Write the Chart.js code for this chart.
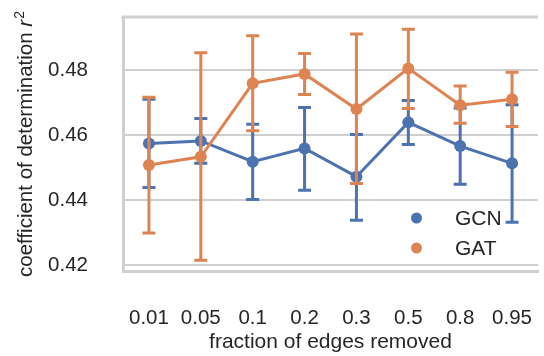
<!DOCTYPE html>
<html>
<head>
<meta charset="utf-8">
<script src="https://cdn.jsdelivr.net/npm/chart.js@4.4.1/dist/chart.umd.min.js"></script>
<style>
  html, body { margin: 0; padding: 0; background: #ffffff; }
  #wrap { width: 544px; height: 356px; }
</style>
</head>
<body>
<div id="wrap"><canvas id="chart" width="544" height="356"></canvas></div>
<script>
// fraction of edges removed (x categories)
var categories = ['0.01', '0.05', '0.1', '0.2', '0.3', '0.5', '0.8', '0.95'];

// GCN mean r^2 and error bar ends
var gcnMean = [0.4574, 0.4582, 0.4518, 0.4559, 0.4472, 0.4639, 0.4566, 0.4513];
var gcnLow  = [0.4439, 0.4513, 0.4402, 0.4430, 0.4338, 0.4571, 0.4449, 0.4332];
var gcnHigh = [0.4710, 0.4651, 0.4633, 0.4685, 0.4602, 0.4706, 0.4683, 0.4693];

// GAT mean r^2 and error bar ends
var gatMean = [0.4508, 0.4533, 0.4759, 0.4788, 0.4680, 0.4805, 0.4692, 0.4710];
var gatLow  = [0.4299, 0.4215, 0.4613, 0.4725, 0.4451, 0.4682, 0.4636, 0.4626];
var gatHigh = [0.4716, 0.4853, 0.4905, 0.4851, 0.4911, 0.4925, 0.4751, 0.4793];

var yTicks = [0.42, 0.44, 0.46, 0.48];

var blue = '#4C72B0';
var orange = '#DD8452';
var textColor = '#262626';
var gridColor = '#cfcfcf';
var fontFamily = '"Liberation Sans", Arial, sans-serif';

var errors = [
    { low: gcnLow, high: gcnHigh },
    { low: gatLow, high: gatHigh }
];

// error bars, drawn just before each dataset's line and points
var errorBars = {
    id: 'errorBars',
    beforeDatasetDraw: function(chart, args) {
        var ctx = chart.ctx;
        var ds = chart.data.datasets[args.index];
        var err = errors[args.index];
        var xScale = chart.scales.x;
        var yScale = chart.scales.y;
        ctx.save();
        ctx.strokeStyle = ds.borderColor;
        ctx.lineWidth = 3;
        for (var i = 0; i < categories.length; i++) {
            var x = xScale.getPixelForValue(i);
            var yLo = yScale.getPixelForValue(err.low[i]);
            var yHi = yScale.getPixelForValue(err.high[i]);
            ctx.beginPath();
            ctx.moveTo(x, yLo);
            ctx.lineTo(x, yHi);
            ctx.moveTo(x - 6.5, yLo);
            ctx.lineTo(x + 6.5, yLo);
            ctx.moveTo(x - 6.5, yHi);
            ctx.lineTo(x + 6.5, yHi);
            ctx.stroke();
        }
        ctx.restore();
    }
};

// top frame line, legend and the y title with italic r squared
var extras = {
    id: 'extras',
    beforeDatasetsDraw: function(chart) {
        var ctx = chart.ctx;
        var area = chart.chartArea;
        ctx.save();
        ctx.strokeStyle = gridColor;
        ctx.lineWidth = 3;
        ctx.beginPath();
        ctx.moveTo(area.left - 1.5, area.top);
        ctx.lineTo(area.right, area.top);
        ctx.stroke();
        ctx.restore();
    },
    afterDraw: function(chart) {
        var ctx = chart.ctx;
        ctx.save();

        // legend
        var items = [{ label: 'GCN', color: blue }, { label: 'GAT', color: orange }];
        ctx.font = '21px ' + fontFamily;
        ctx.textBaseline = 'middle';
        ctx.textAlign = 'left';
        items.forEach(function(it, k) {
            var y = 218 + k * 30;
            ctx.fillStyle = it.color;
            ctx.beginPath();
            ctx.arc(416.5, y, 5.5, 0, Math.PI * 2);
            ctx.fill();
            ctx.fillStyle = textColor;
            ctx.fillText(it.label, 455, y + 1);
        });

        // y axis title
        var main = 'coefficient of determination ';
        var normalFont = '20.5px ' + fontFamily;
        var italicFont = 'italic 20.5px ' + fontFamily;
        var supFont = '14px ' + fontFamily;
        ctx.font = normalFont;
        var w1 = ctx.measureText(main).width;
        ctx.font = italicFont;
        var w2 = ctx.measureText('r').width;
        ctx.font = supFont;
        var w3 = ctx.measureText('2').width;
        var total = w1 + w2 + w3 + 1;
        ctx.translate(32, (chart.chartArea.top + chart.chartArea.bottom) / 2);
        ctx.rotate(-Math.PI / 2);
        ctx.fillStyle = textColor;
        ctx.textBaseline = 'alphabetic';
        var x0 = -total / 2;
        ctx.font = normalFont;
        ctx.fillText(main, x0, 0);
        ctx.font = italicFont;
        ctx.fillText('r', x0 + w1, 0);
        ctx.font = supFont;
        ctx.fillText('2', x0 + w1 + w2 + 1, -8);
        ctx.restore();
    }
};

function noPadding(scale) {
    scale.paddingTop = 0;
    scale.paddingBottom = 0;
    scale.paddingLeft = 0;
    scale.paddingRight = 0;
}

var ctx = document.getElementById('chart').getContext('2d');
var chart = new Chart(ctx, {
    type: 'line',
    data: {
        labels: categories,
        datasets: [{
            label: 'GCN',
            data: gcnMean,
            borderColor: blue,
            backgroundColor: blue,
            borderWidth: 3,
            pointRadius: 6,
            pointBorderWidth: 0,
            tension: 0,
            order: 2
        }, {
            label: 'GAT',
            data: gatMean,
            borderColor: orange,
            backgroundColor: orange,
            borderWidth: 3,
            pointRadius: 6,
            pointBorderWidth: 0,
            tension: 0,
            order: 1
        }]
    },
    options: {
        responsive: false,
        animation: false,
        devicePixelRatio: 1,
        layout: {
            padding: { top: 17, right: 0, bottom: 0, left: 0 }
        },
        plugins: {
            legend: { display: false },
            tooltip: { enabled: false }
        },
        scales: {
            x: {
                type: 'category',
                offset: true,
                afterFit: function(scale) { scale.height = 85; noPadding(scale); },
                grid: { display: false, drawTicks: false },
                border: { display: true, color: gridColor, width: 3 },
                ticks: {
                    color: textColor,
                    padding: 35,
                    maxRotation: 0,
                    autoSkip: false,
                    font: { family: fontFamily, size: 20.5 }
                },
                title: {
                    display: true,
                    text: 'fraction of edges removed',
                    color: textColor,
                    padding: { top: 0, bottom: 1 },
                    font: { family: fontFamily, size: 21 }
                }
            },
            y: {
                min: 0.4182,
                max: 0.4963,
                afterFit: function(scale) { scale.width = 123; noPadding(scale); },
                afterBuildTicks: function(scale) {
                    scale.ticks = yTicks.map(function(v) { return { value: v }; });
                },
                grid: { color: gridColor, lineWidth: 2, drawTicks: false },
                border: { display: true, color: gridColor, width: 3 },
                ticks: {
                    color: textColor,
                    padding: 35,
                    font: { family: fontFamily, size: 20.5 },
                    callback: function(v) { return v.toFixed(2); }
                }
            }
        }
    },
    plugins: [errorBars, extras]
});
</script>
</body>
</html>
